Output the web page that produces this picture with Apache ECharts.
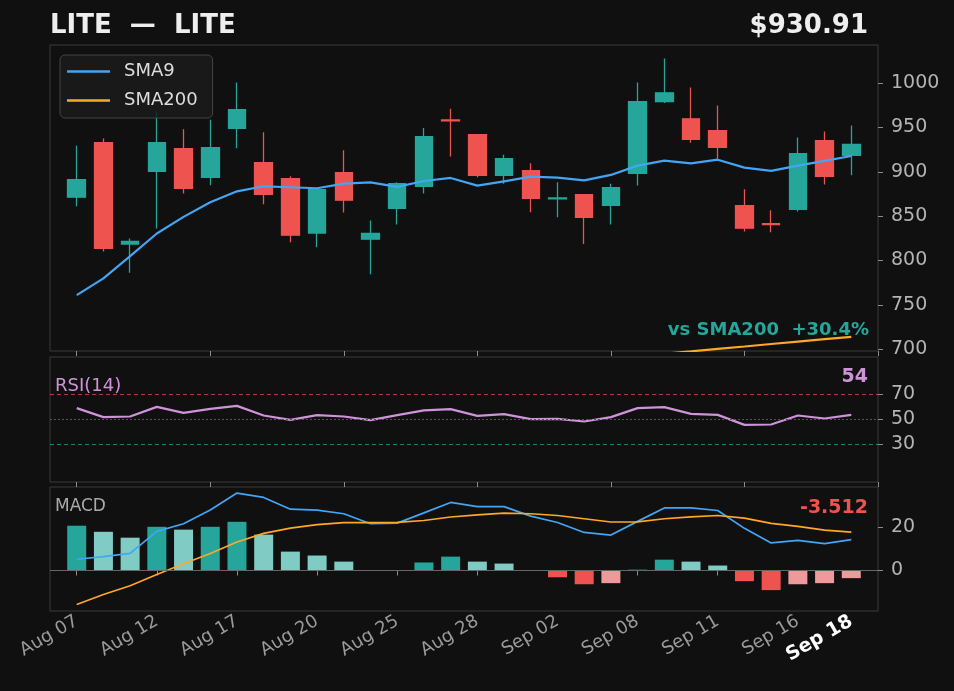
<!DOCTYPE html>
<html>
<head>
<meta charset="utf-8">
<title>LITE</title>
<script src="https://cdn.jsdelivr.net/npm/echarts@6/dist/echarts.min.js"></script>
<style>
  html, body { margin: 0; padding: 0; background: #101010; }
  #chart { width: 954px; height: 691px; }
</style>
</head>
<body>
<div id="chart"></div>
<script>
// trading days shown on the x axis
var dates = ['Aug 07', 'Aug 08', 'Aug 11', 'Aug 12', 'Aug 13', 'Aug 15', 'Aug 17', 'Aug 18', 'Aug 19', 'Aug 20',
             'Aug 21', 'Aug 22', 'Aug 25', 'Aug 26', 'Aug 27', 'Aug 28', 'Aug 29', 'Sep 01', 'Sep 02', 'Sep 03',
             'Sep 05', 'Sep 08', 'Sep 09', 'Sep 10', 'Sep 11', 'Sep 12', 'Sep 15', 'Sep 16', 'Sep 17', 'Sep 18'];
var tickDates = ['Aug 07', 'Aug 12', 'Aug 17', 'Aug 20', 'Aug 25', 'Aug 28', 'Sep 02', 'Sep 08', 'Sep 11', 'Sep 16', 'Sep 18'];

var openP  = [871.4, 932.8, 818.5, 900.6, 926.1, 893.8, 949.0, 910.4, 892.4, 830.9,
              899.1, 824.1, 858.9, 883.7, 958.5, 941.9, 896.1, 901.4, 869.6, 874.4,
              862.3, 898.3, 979.3, 959.8, 946.3, 862.0, 841.5, 857.8, 935.1, 918.6];
var closeP = [891.2, 813.6, 821.5, 932.8, 881.5, 927.2, 970.0, 874.7, 828.6, 880.0,
              868.0, 830.5, 886.7, 939.6, 957.5, 896.1, 914.8, 870.2, 870.6, 848.8,
              882.2, 979.0, 989.1, 936.6, 927.6, 836.5, 840.5, 920.5, 894.9, 930.91];
var lowP   = [861.2, 810.2, 786.3, 836.0, 875.5, 884.9, 926.5, 863.5, 820.7, 815.0,
              854.1, 784.4, 840.6, 875.5, 917.4, 893.8, 886.7, 854.5, 848.8, 818.5,
              840.6, 884.5, 977.5, 932.8, 914.8, 832.7, 831.9, 855.2, 885.6, 896.1];
var highP  = [929.5, 937.7, 824.9, 968.0, 947.9, 958.7, 1000.7, 944.5, 895.0, 881.9,
              924.2, 845.1, 888.2, 949.3, 971.1, 942.5, 919.3, 909.6, 888.2, 875.0,
              886.7, 1000.7, 1027.7, 995.0, 974.8, 880.3, 856.7, 938.8, 945.5, 952.3];

var sma9   = [761.0, 779.9, 805.0, 830.5, 849.2, 865.7, 878.0, 883.7, 882.6, 881.5,
              886.7, 888.2, 883.0, 889.7, 893.1, 884.5, 889.3, 894.6, 893.5, 890.4,
              896.5, 907.0, 912.6, 909.6, 913.7, 904.7, 901.0, 907.0, 912.3, 917.9];
var sma200 = [636.3, 638.9, 641.4, 644.0, 646.7, 649.3, 651.8, 654.6, 657.4, 660.1,
              662.7, 665.3, 668.0, 670.6, 673.3, 676.1, 678.7, 681.4, 684.0, 686.8,
              689.5, 692.1, 694.9, 697.6, 700.4, 703.1, 705.9, 708.6, 711.3, 713.9];

var rsi    = [59.1, 51.9, 52.4, 60.1, 55.3, 58.5, 60.9, 53.2, 49.7, 53.5,
              52.4, 49.5, 53.5, 57.3, 58.3, 52.9, 54.3, 50.3, 50.5, 48.4,
              51.9, 59.1, 59.9, 54.5, 53.7, 45.7, 46.0, 53.2, 50.8, 53.7];

var macdLine   = [5.2, 6.4, 7.9, 18.0, 21.5, 27.8, 35.6, 33.6, 28.2, 27.8,
                  26.1, 21.5, 21.8, 26.5, 31.3, 29.4, 29.4, 25.0, 22.1, 17.5,
                  16.3, 22.6, 28.8, 28.8, 27.6, 19.4, 12.7, 13.9, 12.4, 14.2];
var signalLine = [-15.6, -11.0, -7.0, -1.8, 3.1, 7.8, 13.1, 17.1, 19.5, 21.1,
                  22.0, 22.0, 22.1, 23.0, 24.6, 25.6, 26.4, 26.1, 25.3, 23.8,
                  22.3, 22.4, 23.8, 24.7, 25.3, 24.1, 21.7, 20.3, 18.6, 17.7];
var histogram  = [20.6, 17.8, 15.1, 20.1, 18.8, 20.1, 22.4, 16.5, 8.7, 6.9,
                  4.1, 0, 0, 3.7, 6.4, 4.1, 3.2, 0, -3.1, -6.3,
                  -5.8, 0.4, 5.0, 4.1, 2.3, -4.9, -9.0, -6.3, -5.8, -3.5];

// one empty slot on each side, like the price panel margins
var cats = [' '].concat(dates, ['  ']);
function pad(arr) { return ['-'].concat(arr, ['-']); }

var candles = dates.map(function (d, i) { return [openP[i], closeP[i], lowP[i], highP[i]]; });

var axisGrey = '#8c8c8c';
var frame = '#3a3a3a';

function upperTick(idx) { return (idx - 1) % 5 === 0; }
function dateTick(idx, value) { return tickDates.indexOf(value) >= 0; }
function plain(v) { return String(v); }

var chart = echarts.init(document.getElementById('chart'));
var option = {
  backgroundColor: '#101010',
  animation: false,
  textStyle: { fontFamily: 'DejaVu Sans' },
  legend: {
    data: ['SMA9', 'SMA200'],
    orient: 'vertical',
    left: 60,
    top: 55,
    icon: 'rect',
    itemWidth: 43,
    itemHeight: 2.5,
    itemGap: 8,
    backgroundColor: 'rgba(27,27,27,0.85)',
    borderColor: '#444',
    borderWidth: 1,
    borderRadius: 5,
    padding: [6, 15, 7, 7],
    textStyle: { color: '#dddddd', fontSize: 18, padding: [0, 0, 0, 9], lineHeight: 21 }
  },
  grid: [
    { left: 50, right: 76, top: 45, height: 306, show: true, borderColor: frame, backgroundColor: '#101010' },
    { left: 50, right: 76, top: 357, height: 125, show: true, borderColor: frame, backgroundColor: '#101010' },
    { left: 50, right: 76, top: 487, height: 124, show: true, borderColor: frame, backgroundColor: '#101010' }
  ],
  xAxis: [0, 1].map(function (g) {
    return {
      type: 'category', gridIndex: g, data: cats, boundaryGap: false,
      axisLine: { show: false },
      axisTick: { show: true, interval: upperTick, length: 5, lineStyle: { color: axisGrey } },
      axisLabel: { show: false },
      splitLine: { show: false }
    };
  }).concat([{
    type: 'category', gridIndex: 2, data: cats, boundaryGap: false,
    axisLine: { show: false },
    axisTick: { show: true, interval: dateTick, length: 5, lineStyle: { color: axisGrey } },
    axisLabel: {
      interval: dateTick, rotate: 30, margin: 9, fontSize: 18, color: '#9a9a9a',
      formatter: function (v) { return v === dates[dates.length - 1] ? '{hl|' + v + '}' : v; },
      rich: { hl: { fontSize: 19, fontWeight: 'bold', color: '#ffffff' } }
    },
    splitLine: { show: false }
  }]),
  yAxis: [
    { type: 'value', gridIndex: 0, position: 'right', min: 698, max: 1043,
      axisLine: { show: false }, splitLine: { show: false },
      axisTick: { show: true, length: 5, customValues: [700, 750, 800, 850, 900, 950, 1000], lineStyle: { color: axisGrey } },
      axisLabel: { customValues: [700, 750, 800, 850, 900, 950, 1000], formatter: plain, color: '#b4b4b4', fontSize: 19, margin: 13 } },
    { type: 'value', gridIndex: 1, position: 'right', min: 0, max: 100,
      axisLine: { show: false }, splitLine: { show: false },
      axisTick: { show: true, length: 5, customValues: [30, 50, 70], lineStyle: { color: axisGrey } },
      axisLabel: { customValues: [30, 50, 70], formatter: plain, color: '#b4b4b4', fontSize: 19, margin: 13 } },
    { type: 'value', gridIndex: 2, position: 'right', min: -18.6, max: 38.4,
      axisLine: { show: false }, splitLine: { show: false },
      axisTick: { show: true, length: 5, customValues: [0, 20], lineStyle: { color: axisGrey } },
      axisLabel: { customValues: [0, 20], formatter: plain, color: '#b4b4b4', fontSize: 19, margin: 13 } }
  ],
  series: [
    {
      name: 'LITE', type: 'candlestick', xAxisIndex: 0, yAxisIndex: 0,
      data: pad(candles), barWidth: 18,
      itemStyle: { color: '#26a69a', color0: '#ef5350', borderColor: '#26a69a', borderColor0: '#ef5350', borderWidth: 1.3 }
    },
    {
      name: 'SMA9', type: 'line', xAxisIndex: 0, yAxisIndex: 0, data: pad(sma9),
      showSymbol: false, symbol: 'none', color: '#42a5f5', lineStyle: { width: 2.2 }
    },
    {
      name: 'SMA200', type: 'line', xAxisIndex: 0, yAxisIndex: 0, data: pad(sma200),
      showSymbol: false, symbol: 'none', color: '#ffa726', lineStyle: { width: 2.2 }
    },
    {
      name: 'RSI', type: 'line', xAxisIndex: 1, yAxisIndex: 1, data: pad(rsi),
      showSymbol: false, symbol: 'none', color: '#ce93d8', lineStyle: { width: 2.2 },
      markLine: {
        silent: true, symbol: 'none', label: { show: false },
        data: [
          { yAxis: 70, lineStyle: { color: '#b23b3b', type: [4, 3], width: 1 } },
          { yAxis: 50, lineStyle: { color: '#555555', type: [2, 2], width: 1 } },
          { yAxis: 30, lineStyle: { color: '#1f7d72', type: [4, 3], width: 1 } }
        ]
      }
    },
    {
      name: 'Hist', type: 'bar', xAxisIndex: 2, yAxisIndex: 2, data: pad(histogram), barWidth: 19,
      itemStyle: {
        color: function (p) {
          var i = p.dataIndex - 1;
          var v = histogram[i], prev = i > 0 ? histogram[i - 1] : v;
          if (v >= 0) return v >= prev ? '#26a69a' : '#80cbc4';
          return v <= prev ? '#ef5350' : '#ef9a9a';
        }
      },
      markLine: {
        silent: true, symbol: 'none', label: { show: false },
        data: [{ yAxis: 0, lineStyle: { color: '#666666', type: 'solid', width: 1.2 } }]
      }
    },
    {
      name: 'MACD', type: 'line', xAxisIndex: 2, yAxisIndex: 2, data: pad(macdLine),
      showSymbol: false, symbol: 'none', color: '#42a5f5', lineStyle: { width: 1.7 }
    },
    {
      name: 'Signal', type: 'line', xAxisIndex: 2, yAxisIndex: 2, data: pad(signalLine),
      showSymbol: false, symbol: 'none', color: '#ffa726', lineStyle: { width: 1.7 }
    }
  ],
  graphic: [
    { type: 'text', x: 50, y: 26, z: 100, style: { text: 'LITE  \u2014  LITE', font: 'bold 26px DejaVu Sans', fill: '#eeeeee', align: 'left', verticalAlign: 'middle' } },
    { type: 'text', x: 868, y: 26, z: 100, style: { text: '$930.91', font: 'bold 26px DejaVu Sans', fill: '#eeeeee', align: 'right', verticalAlign: 'middle' } },
    { type: 'text', x: 869, y: 330, z: 100, style: { text: 'vs SMA200  +30.4%', font: 'bold 18px DejaVu Sans', fill: '#26a69a', align: 'right', verticalAlign: 'middle' } },
    { type: 'text', x: 55, y: 386, z: 100, style: { text: 'RSI(14)', font: '18px DejaVu Sans', fill: '#ce93d8', align: 'left', verticalAlign: 'middle' } },
    { type: 'text', x: 868, y: 377, z: 100, style: { text: '54', font: 'bold 19px DejaVu Sans', fill: '#ce93d8', align: 'right', verticalAlign: 'middle' } },
    { type: 'text', x: 55, y: 507, z: 100, style: { text: 'MACD', font: '17px DejaVu Sans', fill: '#aaaaaa', align: 'left', verticalAlign: 'middle' } },
    { type: 'text', x: 868, y: 508, z: 100, style: { text: '-3.512', font: 'bold 19px DejaVu Sans', fill: '#ef5350', align: 'right', verticalAlign: 'middle' } }
  ]
};
chart.setOption(option);
window.addEventListener('resize', function () {
  chart.resize();
});
</script>
</body>
</html>
